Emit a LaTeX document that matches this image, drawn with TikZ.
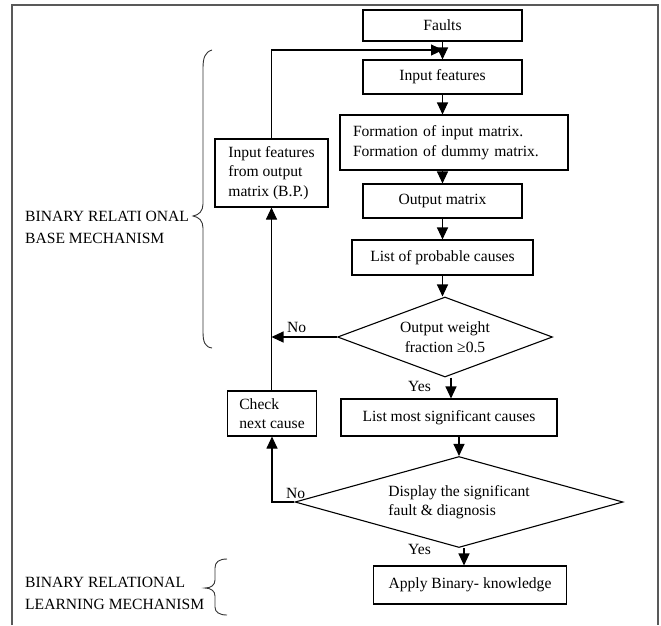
\documentclass[tikz,border=0pt]{standalone}
\usepackage{fontspec}
\setmainfont{Liberation Serif}
\usetikzlibrary{arrows.meta,shapes.geometric}

\begin{document}
\begin{tikzpicture}[x=1pt,y=-1pt,
  every node/.style={font=\fontsize{15.6}{19.5}\selectfont, inner sep=0pt},
  box/.style={draw, line width=1.1pt},
  decision/.style={draw, line width=1.1pt, shape=diamond},
  arr/.style={line width=1.1pt, -{Triangle[width=11pt,length=12pt]}},
  frame/.style={draw=black!65, line width=1.5pt},
  brace/.style={draw=black!80, line width=0.9pt},
  sidelabel/.style={anchor=west, align=left, font=\fontsize{15.6}{22}\selectfont}]

\useasboundingbox (0,0) rectangle (661,625);

% outer frame
\draw[frame] (12,625) -- (12,5) -- (658,5) -- (658,625);

% main column
\node[box, minimum width=159pt, minimum height=31pt] (faults) at (442.5,25.5) {Faults};
\node[box, minimum width=159pt, minimum height=34pt] (inputf) at (442.5,77) {Input features};
\node[box, minimum height=55pt, text width=202pt, inner xsep=13pt, align=left] (form) at (454,142.5)
  {Formation of input matrix.\\Formation of dummy matrix.};
\node[box, minimum width=159pt, minimum height=34pt] (outm) at (442.5,201) {Output matrix};
\node[box, minimum width=181pt, minimum height=35pt] (lpc) at (442.5,257.5) {List of probable causes};
\node[decision, aspect=2.69, minimum width=215pt, minimum height=80pt, align=center] (d1) at (445,337)
  {Output weight\\fraction ≥0.5};
\node[box, minimum width=216pt, minimum height=37pt] (lms) at (449,417.5) {List most significant causes};
\node[decision, aspect=3.6, minimum width=328pt, minimum height=91pt, align=left] (d2) at (459,502)
  {Display the significant\\fault \& diagnosis};
\node[box, minimum width=193pt, minimum height=38pt] (apply) at (470,585) {Apply Binary- knowledge};

% feedback column
\node[box, minimum width=113pt, minimum height=68pt, align=left] (ifo) at (271.5,173)
  {Input features\\from output\\matrix (B.P.)};
\node[box, minimum width=89pt, minimum height=45pt, align=left] (check) at (272,413.5)
  {Check\\next cause};

% labels on branches
\node[anchor=south west] (no1) at (287,333) {No};
\node[anchor=south west] (yes1) at (408,392) {Yes};
\node[anchor=south west] (no2) at (286,499) {No};
\node[anchor=south west] (yes2) at (408,555) {Yes};

% side annotations
\node[sidelabel] (base) at (25,227) {BINARY RELATI ONAL\\BASE MECHANISM};
\node[sidelabel] (learn) at (25,593) {BINARY RELATIONAL\\LEARNING MECHANISM};

% braces
\draw[brace] (212,50) .. controls (205,52) and (203,58) .. (203,68) -- (203,204)
  .. controls (203,211) and (199,215) .. (193,216)
  .. controls (199,217) and (203,221) .. (203,228) -- (203,332)
  .. controls (203,342) and (205,347) .. (212,348);
\draw[brace] (227,559) .. controls (219,559) and (215,562) .. (215,568) -- (215,580)
  .. controls (215,585) and (211,588) .. (205,588)
  .. controls (211,588) and (215,591) .. (215,596) -- (215,607)
  .. controls (215,612) and (219,615) .. (227,615);

% connectors
\coordinate (fb) at (443,50);
\draw[arr] (faults.south) -- (inputf.north);
\draw[arr] (ifo.north) |- (fb);
\draw[arr] (inputf.south) -- (inputf.south |- form.north);
\draw[arr] (outm.north |- form.south) -- (outm.north);
\draw[arr] (outm.south) -- (lpc.north);
\draw[arr] (lpc.south) -- (lpc.south |- d1.north);
\draw[arr] ([xshift=6pt]d1.south) -- ([xshift=6pt]d1.south |- lms.north);
\draw[arr] (d2.north |- lms.south) -- (d2.north);
\draw[arr] ([xshift=5pt]d2.south) -- ([xshift=5pt]d2.south |- apply.north);
\draw[arr] (d1.west) -- (d1.west -| ifo.south);
\draw[arr] (ifo.south |- check.north) -- (ifo.south);
\draw[arr] (d2.west) -| (check.south);
\end{tikzpicture}
\end{document}
